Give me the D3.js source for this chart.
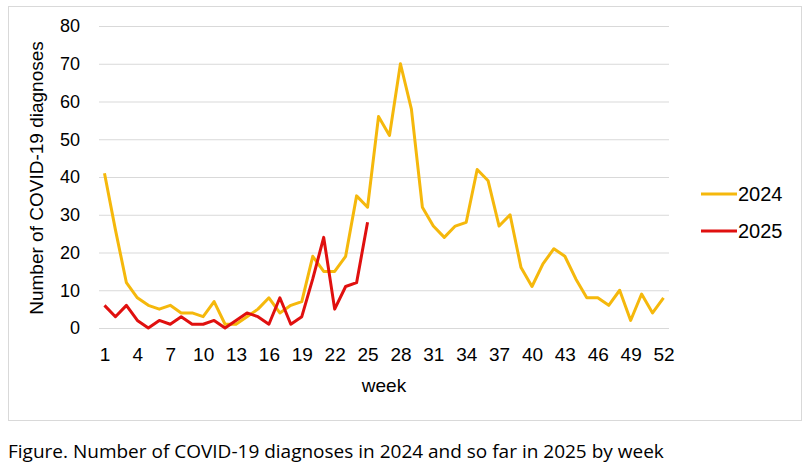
<!DOCTYPE html>
<html>
<head>
<meta charset="utf-8">
<script src="https://cdn.jsdelivr.net/npm/d3@7"></script>
<style>
  body { margin: 0; background: #fff; }
</style>
</head>
<body>
<div id="chart"></div>
<script>
// weekly diagnoses
const weeks = d3.range(1, 53);
const cases2024 = [41, 26, 12, 8, 6, 5, 6, 4, 4, 3, 7, 1, 1, 3, 5, 8, 4, 6, 7, 19,
  15, 15, 19, 35, 32, 56, 51, 70, 58, 32, 27, 24, 27, 28, 42, 39, 27, 30, 16, 11,
  17, 21, 19, 13, 8, 8, 6, 10, 2, 9, 4, 8];
const cases2025 = [6, 3, 6, 2, 0, 2, 1, 3, 1, 1, 2, 0, 2, 4, 3, 1, 8, 1, 3, 13,
  24, 5, 11, 12, 28];
const yTicks = [0, 10, 20, 30, 40, 50, 60, 70, 80];
const xTicks = [1, 4, 7, 10, 13, 16, 19, 22, 25, 28, 31, 34, 37, 40, 43, 46, 49, 52];
const seriesNames = ["2024", "2025"];
const seriesColors = ["#F5B80C", "#E0100F"];

let width = 805, height = 469;
let margin = { top: 26, bottom: 141, left: 99, right: 136 };

let svg = d3.select('#chart')
  .append('svg')
  .attr('width', width)
  .attr('height', height)
  .style('font-family', '"Liberation Sans", Arial, sans-serif');

// outer frame
svg.append('rect')
  .attr('x', 8.5).attr('y', 6.5)
  .attr('width', 793).attr('height', 414)
  .attr('fill', 'none')
  .attr('stroke', '#d9d9d9');

let xScale = d3.scalePoint()
  .domain(weeks)
  .range([margin.left, width - margin.right])
  .padding(0.5);

let yScale = d3.scaleLinear()
  .domain([0, 80])
  .range([height - margin.bottom, margin.top]);

// y axis + gridlines
let yAxis = svg.append('g')
  .attr('transform', `translate(${margin.left},0)`)
  .call(d3.axisLeft(yScale)
    .tickValues(yTicks)
    .tickSize(-(width - margin.right - margin.left))
    .tickPadding(19));
yAxis.select('.domain').remove();
yAxis.selectAll('line').attr('stroke', '#d9d9d9');
yAxis.selectAll('text')
  .attr('fill', '#000')
  .style('font-size', '18px')
  .style('font-family', '"Liberation Sans", Arial, sans-serif');

// x axis
let xAxis = svg.append('g')
  .attr('transform', `translate(0,${height - margin.bottom})`)
  .call(d3.axisBottom(xScale)
    .tickValues(xTicks)
    .tickSize(0)
    .tickPadding(20));
xAxis.select('.domain').remove();
xAxis.selectAll('text')
  .attr('fill', '#000')
  .style('font-size', '19px')
  .style('font-family', '"Liberation Sans", Arial, sans-serif');

// lines
let line = d3.line()
  .x((d, i) => xScale(weeks[i]))
  .y(d => yScale(d));

[cases2024, cases2025].forEach((vals, k) => {
  svg.append('path')
    .datum(vals)
    .attr('d', line)
    .attr('fill', 'none')
    .attr('stroke', seriesColors[k])
    .attr('stroke-width', 3)
    .attr('stroke-linejoin', 'round');
});

// axis titles
svg.append('text')
  .attr('x', 384)
  .attr('y', 392)
  .text('week')
  .style('text-anchor', 'middle')
  .style('font-size', '19px');

svg.append('text')
  .attr('transform', 'translate(43,178) rotate(-90)')
  .text('Number of COVID-19 diagnoses')
  .style('text-anchor', 'middle')
  .style('font-size', '19px');

// legend
const legend = svg.selectAll('.legend')
  .data(seriesNames)
  .enter().append('g')
  .attr('class', 'legend')
  .attr('transform', (d, i) => `translate(701, ${194 + i * 37})`);

legend.append('line')
  .attr('x1', 0).attr('x2', 36)
  .attr('stroke', (d, i) => seriesColors[i])
  .attr('stroke-width', 3);

legend.append('text')
  .attr('x', 37)
  .attr('y', 7)
  .text(d => d)
  .style('font-size', '20px');

// caption under the frame
svg.append('text')
  .attr('x', 8)
  .attr('y', 458)
  .text('Figure. Number of COVID-19 diagnoses in 2024 and so far in 2025 by week')
  .style('font-family', '"Open Sans", Lato, sans-serif')
  .style('font-size', '19px');
</script>
</body>
</html>
